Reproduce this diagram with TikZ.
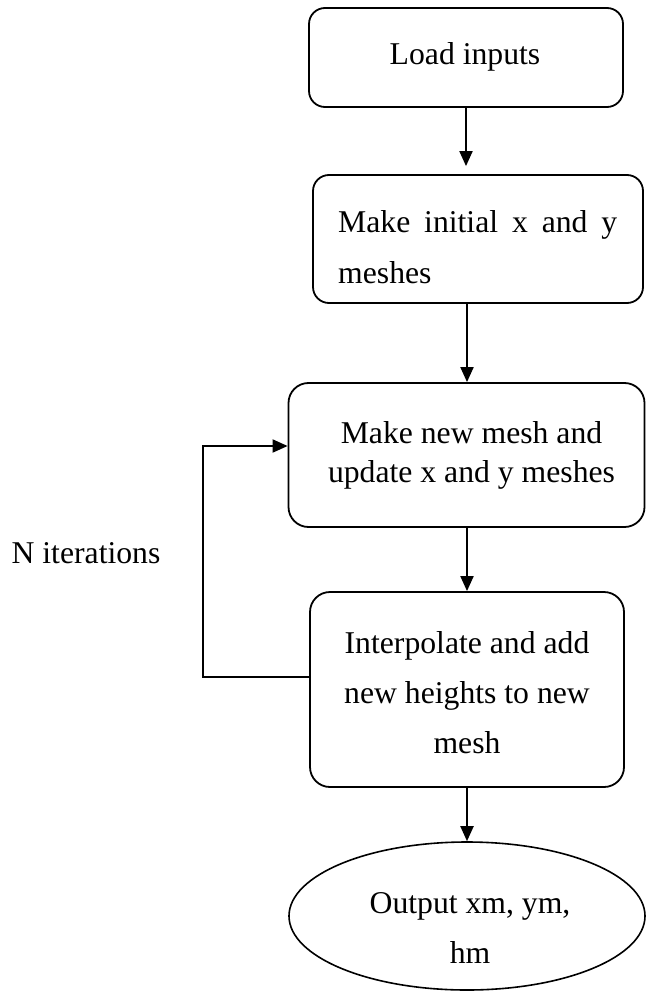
\documentclass[tikz,border=0pt]{standalone}
\usepackage{fontspec}
\setmainfont{Liberation Serif}
\usetikzlibrary{arrows.meta,shapes.geometric}

\tikzset{
  stepbox/.style={draw, line width=1.8pt, rounded corners=#1, inner sep=0pt},
  stepbox/.default=16pt,
  outbox/.style={draw, ellipse, line width=1.6pt, inner sep=0pt},
  flowtext/.style={inner sep=0pt, anchor=base, font=\fontsize{31.7}{#1}\selectfont},
  flowtext/.default=40,
  flow/.style={line width=1.9pt, -{Triangle[length=15pt,width=13pt]}}
}

\begin{document}
\begin{tikzpicture}[x=1pt,y=-1pt]
\useasboundingbox (0,0) rectangle (646,992);

% process frames
\node[stepbox, minimum width=314pt, minimum height=99pt] (b1) at (466,57.5) {};
\node[stepbox, minimum width=330pt, minimum height=128pt] (b2) at (478,239) {};
\node[stepbox=20pt, minimum width=356pt, minimum height=144pt] (b3) at (466.5,455) {};
\node[stepbox=20pt, minimum width=314pt, minimum height=195pt] (b4) at (467,689.5) {};
\node[outbox, minimum width=356pt, minimum height=148pt] (out) at (467,916) {};

% texts (multi-line nodes sit on the baseline of their last line)
\node[flowtext] (t1) at (465,65) {Load inputs};
\node[flowtext=51, align=left, anchor=base west] (t2) at (338,283)
  {\makebox[279pt][s]{Make initial x and y}\\meshes};
\node[flowtext=39, align=center] (t3) at (471.5,482) {Make new mesh and\\update x and y meshes};
\node[flowtext=50, align=center] (t4) at (467,753) {Interpolate and add\\new heights to new\\mesh};
\node[flowtext=50, align=center] (t5) at (470,963) {Output xm, ym,\\hm};
\node[flowtext] (tn) at (86,563) {N iterations};

% connectors
\draw[flow, shorten >=8pt] (b1.south -| 466,0) -- (b2.north -| 466,0);
\draw[flow] (b2.south -| 467,0) -- (b3.north -| 467,0);
\draw[flow] (b3.south -| 467,0) -- (b4.north -| 467,0);
\draw[flow] (b4.south -| 467,0) -- (out.north -| 467,0);

% loop back
\coordinate (lp) at (203,0);
\draw[flow] (b4.west |- 0,677) -- (lp |- 0,677) -- (lp |- 0,446) -- (b3.west |- 0,446);
\end{tikzpicture}
\end{document}
